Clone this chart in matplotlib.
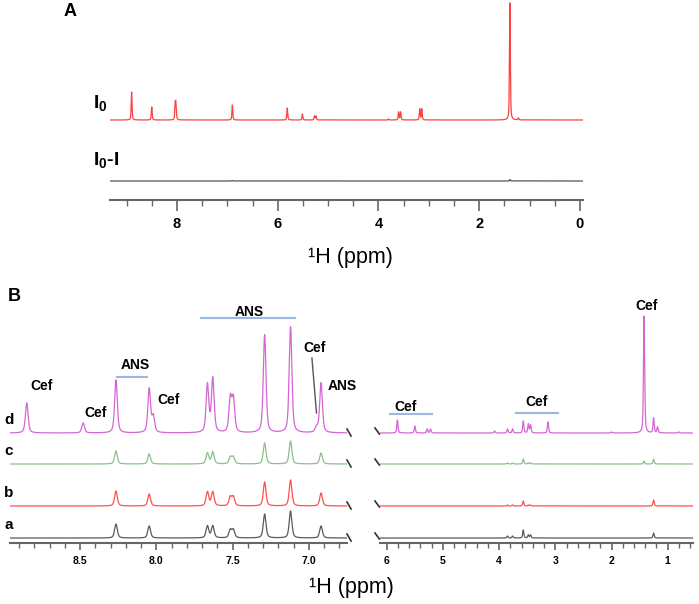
import numpy as np
import matplotlib
matplotlib.use('Agg')
import matplotlib.pyplot as plt
from matplotlib.ticker import MultipleLocator

plt.rcParams['font.family'] = ['Liberation Sans', 'DejaVu Sans']
plt.rcParams['mathtext.fontset'] = 'custom'
plt.rcParams['mathtext.rm'] = 'Liberation Sans:bold'
plt.rcParams['mathtext.it'] = 'Liberation Sans:bold'

# Panel A: peak positions (ppm) and heights
A_ppm = [8.90, 8.50, 8.035, 8.02, 6.90, 5.81, 5.51, 5.27, 5.24, 3.60, 3.56, 3.18, 3.14, 1.39, 3.80, 1.22]
A_I0 = [28, 13, 15, 15, 15, 12, 6, 4, 4, 8, 8, 11, 11, 117, 1, 2]
A_diff = [0, 0, 0, 0, 0.5, 0, 0, 0, 0, 0, 0, 0, 0, 1.5, 0, 0]

# Panel B, left region (aromatic)
BL_ppm = [8.85, 8.48, 8.265, 8.047, 8.02, 7.665, 7.63, 7.515, 7.495, 7.29, 7.12, 6.95, 6.92]
BL_d = [30, 10, 53, 44, 16, 48, 54, 34, 33, 98, 106, 5, 50]
BL_c = [0, 0, 13, 10, 0, 11, 12, 7, 7, 21, 23, 0, 11]
BL_b = [0, 0, 15, 12, 0, 14, 14, 9, 9, 24, 26, 0, 13]
BL_a = [0, 0, 14, 12, 0, 12, 12, 8, 8, 24, 27, 0, 12]

# Panel B, right region (aliphatic)
BR_ppm = [5.81, 5.50, 5.28, 5.22, 4.08, 3.85, 3.76, 3.57, 3.48, 3.44, 3.13, 2.00, 1.42, 1.25, 1.18, 0.80]
BR_d = [13, 7, 4, 4, 2, 4, 4, 12, 9, 8, 11, 1, 117, 15, 6, 1]
BR_c = [0, 0, 0, 0, 0, 1, 1, 5, 1, 1, 0, 0, 3, 5, 0, 0]
BR_b = [0, 0, 0, 0, 0, 1, 1, 5, 1, 1, 0, 0, 0, 6, 0, 0]
BR_a = [0, 0, 0, 0, 0, 2, 2, 8, 3, 3, 0, 0, 0, 5, 0, 0]

trace_names = ['d', 'c', 'b', 'a']
trace_colors = ['#d466d4', '#8dbf8d', '#ff5050', '#5a5a5a']
trace_base = [110, 79, 37, 5]


def spectrum(x, centers, heights, fwhm, eta=0.5):
    # pseudo-Voigt line shape for each peak
    y = np.zeros_like(x)
    s = fwhm / 2.355
    for c, h in zip(centers, heights):
        g = np.exp(-0.5 * ((x - c) / s) ** 2)
        l = 1.0 / (1 + ((x - c) / (fwhm / 2)) ** 2)
        y += h * ((1 - eta) * g + eta * l)
    return y


fig = plt.figure(figsize=(6.99, 6.04), dpi=100)


def px_axes(x0, y0, x1, y1):
    return fig.add_axes([x0 / 699, 1 - y1 / 604, (x1 - x0) / 699, (y1 - y0) / 604])


def style(ax, major, minor, size, length):
    for s in ['left', 'top', 'right']:
        ax.spines[s].set_visible(False)
    ax.spines['bottom'].set_color('#666666')
    ax.spines['bottom'].set_linewidth(1.5)
    ax.set_yticks([])
    ax.patch.set_alpha(0)
    ax.xaxis.set_major_locator(MultipleLocator(major))
    ax.xaxis.set_minor_locator(MultipleLocator(minor))
    ax.tick_params(axis='x', which='major', direction='out', length=length[0], width=1.2,
                   color='#666666', labelsize=size, pad=4)
    ax.tick_params(axis='x', which='minor', direction='out', length=length[1], width=1.0,
                   color='#666666')
    for t in ax.get_xticklabels():
        t.set_fontweight('bold')


# ---- Panel A ----
axA = px_axes(110, 0, 583, 200)
xa = np.linspace(-0.1, 9.4, 30000)
axA.plot(xa, 80 + spectrum(xa, A_ppm, A_I0, 0.02), color='#ff4040', lw=0.9)
axA.plot(xa, 19 + spectrum(xa, A_ppm, A_diff, 0.02), color='#555555', lw=0.9)
axA.set_xlim(9.33, -0.06)
axA.set_ylim(0, 200)
style(axA, 2, 0.5, 10.5, (8, 4))
axA.set_xticks([8, 6, 4, 2, 0])
axA.set_xticklabels(['8', '6', '4', '2', '0'], fontweight='bold')

fig.text(70 / 699, 1 - 12 / 604, 'A', fontsize=13, fontweight='bold', va='center', ha='center')
fig.text(93 / 699, 1 - 103 / 604, 'I$_0$', fontsize=14, fontweight='bold', va='center', ha='left')
fig.text(93 / 699, 1 - 160 / 604, 'I$_0$-I', fontsize=14, fontweight='bold', va='center', ha='left')
fig.text(350 / 699, 1 - 257 / 604, '¹H (ppm)', fontsize=15.5, va='center', ha='center')

# ---- Panel B ----
axL = px_axes(10, 290, 347, 543)
axR = px_axes(380, 290, 693, 543)
xl = np.linspace(6.7, 9.0, 6000)
xr = np.linspace(0.5, 6.2, 8000)
left_sets = [BL_d, BL_c, BL_b, BL_a]
right_sets = [BR_d, BR_c, BR_b, BR_a]
for name, col, base, hl, hr in zip(trace_names, trace_colors, trace_base, left_sets, right_sets):
    axL.plot(xl, base + spectrum(xl, BL_ppm, hl, 0.021), color=col, lw=0.9)
    axR.plot(xr, base + spectrum(xr, BR_ppm, hr, 0.025), color=col, lw=0.9)
    # axis break marks
    axL.plot([1.0, 1.012], [base + 4, base - 3], color='#333333', lw=1.2,
             transform=axL.get_yaxis_transform(), clip_on=False)
    axR.plot([-0.016, -0.002], [base + 5, base - 1], color='#333333', lw=1.2,
             transform=axR.get_yaxis_transform(), clip_on=False)
    fig.text(9 / 699, 1 - (543 - base - 13) / 604, name, fontsize=11, fontweight='bold',
             va='center', ha='center')

axL.set_xlim(8.96, 6.75)
axR.set_xlim(6.12, 0.55)
for ax in (axL, axR):
    ax.set_ylim(0, 253)
style(axL, 0.5, 0.1, 7.5, (5, 3.5))
style(axR, 1, 0.2, 7.5, (5, 3.5))

blue = '#9ab8e0'
lab = dict(fontsize=10, fontweight='bold', ha='center', va='center')
axL.text(8.75, 157, 'Cef', **lab)
axL.text(8.40, 130, 'Cef', **lab)
axL.text(8.14, 178, 'ANS', **lab)
axL.plot([8.26, 8.06], [166, 166], color=blue, lw=1.5)
axL.text(7.92, 143, 'Cef', **lab)
axL.text(7.39, 231, 'ANS', **lab)
axL.plot([7.71, 7.09], [225, 225], color=blue, lw=1.5)
axL.text(6.96, 195, 'Cef', **lab)
axL.plot([6.98, 6.95], [185, 130], color='#555555', lw=1.0)
axL.text(6.78, 157, 'ANS', clip_on=False, **lab)
axR.text(5.66, 136, 'Cef', **lab)
axR.plot([5.94, 5.20], [129, 129], color=blue, lw=1.5)
axR.text(3.33, 141, 'Cef', **lab)
axR.plot([3.70, 2.96], [130, 130], color=blue, lw=1.5)
axR.text(1.37, 237, 'Cef', **lab)

fig.text(8 / 699, 1 - 296 / 604, 'B', fontsize=13, fontweight='bold', va='center', ha='left')
fig.text(351 / 699, 1 - 588 / 604, '¹H (ppm)', fontsize=15.5, va='center', ha='center')

fig.savefig('out.png', dpi=100)
